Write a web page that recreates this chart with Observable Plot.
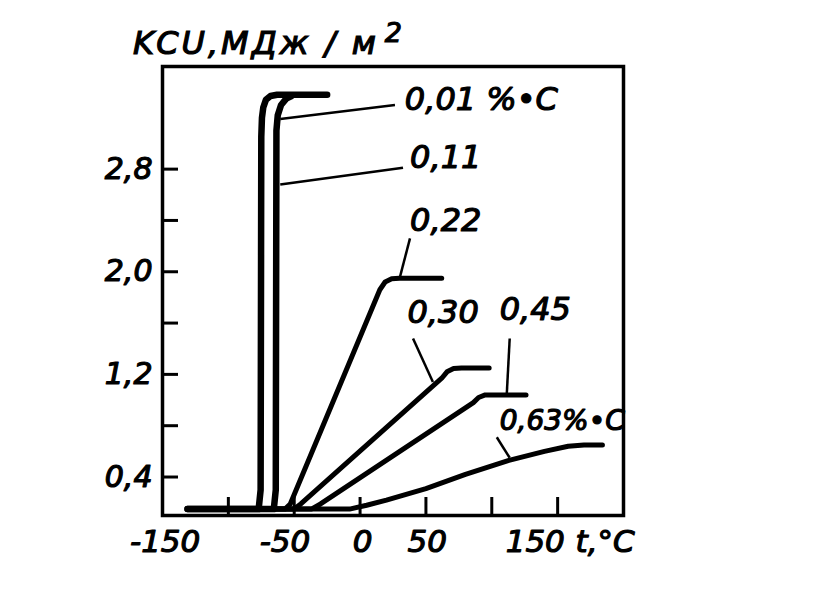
<!DOCTYPE html>
<html><head><meta charset="utf-8">
<script src="https://cdn.jsdelivr.net/npm/d3@7"></script>
<script src="https://cdn.jsdelivr.net/npm/@observablehq/plot@0.6"></script>
<style>
body{margin:0;background:#fff;width:822px;height:614px;overflow:hidden}
#title{height:60px;box-sizing:border-box;padding:27px 0 0 133px;font:italic 32px "DejaVu Sans";letter-spacing:3px;line-height:1;color:#000;-webkit-text-stroke:1.2px #000;white-space:pre}
#title span{position:relative;top:-12px;font-size:27px;margin-left:6px}
</style></head><body>
<div id="title">KCU,МДж / м<span>2</span></div>
<div id="chart"></div>
<script>
// Carbon content series (% C) — impact toughness KCU (MJ/m²) vs temperature t (°C)
const seriesNames = ["0,01", "0,11", "0,22", "0,30", "0,45", "0,63"];
const t001 = [-131, -77, -75.5, -75, -74.5, -73.5, -71.5, -68, -63, -55, -25];
const v001 = [0.15, 0.15, 0.3, 3.05, 3.2, 3.28, 3.34, 3.37, 3.38, 3.38, 3.38];
const t011 = [-131, -65.5, -64, -63.5, -62.5, -60, -56, -52];
const v011 = [0.15, 0.15, 0.3, 3.1, 3.22, 3.3, 3.35, 3.37];
const t022 = [-131, -57, -53, 15, 19, 24, 30, 62];
const v022 = [0.15, 0.15, 0.19, 1.86, 1.92, 1.945, 1.95, 1.95];
const t030 = [-131, -50, -45, 62, 66, 71, 77, 98];
const v030 = [0.15, 0.15, 0.19, 1.17, 1.22, 1.245, 1.25, 1.25];
const t045 = [-131, -37, -30, 86, 90, 95, 126];
const v045 = [0.15, 0.15, 0.19, 0.98, 1.02, 1.04, 1.04];
const t063 = [-131, -8, 5, 20, 50, 80, 113, 140, 158, 170, 184];
const v063 = [0.15, 0.15, 0.18, 0.22, 0.31, 0.42, 0.53, 0.6, 0.64, 0.65, 0.65];

// Curve labels and their leader lines (positions in data units)
const labelText = ["0,01 %•C", "0,11", "0,22", "0,30", "0,45", "0,63%•C"];
const labelT = [34, 38, 38, 36, 106, 106];
const labelV = [3.34, 2.89, 2.4, 1.68, 1.7, 0.84];
const labelSize = [32, 32, 32, 32, 32, 28];
const leaderT1 = [-60.6, -60.6, 30.3, 40.2, 113.6, 103.8];
const leaderV1 = [3.19, 2.68, 1.96, 1.48, 1.48, 0.71];
const leaderT2 = [26.5, 32.6, 37.9, 55.3, 111.4, 113.6];
const leaderV2 = [3.3, 2.81, 2.26, 1.14, 1.05, 0.55];

// Axes
const yTicks = [0.4, 0.8, 1.2, 1.6, 2.0, 2.4, 2.8];
const yLabelVals = [0.4, 1.2, 2.0, 2.8];
const yLabelText = ["0,4", "1,2", "2,0", "2,8"];
const xTicks = [-100, -50, 0, 50, 100, 150];
const xLabelVals = [-148, -57, 2, 51, 133, 186];
const xLabelText = ["-150", "-50", "0", "50", "150", "t,°C"];

const tArr = [t001, t011, t022, t030, t045, t063];
const vArr = [v001, v011, v022, v030, v045, v063];
const rows = seriesNames.flatMap((s, i) => tArr[i].map((t, j) => ({series: s, t, v: vArr[i][j]})));
const steep = rows.filter(d => d.series === "0,01" || d.series === "0,11");
const gentle = rows.filter(d => !(d.series === "0,01" || d.series === "0,11"));
const labels = labelText.map((text, i) => ({text, t: labelT[i], v: labelV[i], size: labelSize[i]}));
const leaders = leaderT1.map((t1, i) => ({t1, v1: leaderV1[i], t2: leaderT2[i], v2: leaderV2[i]}));
const yLabels = yLabelVals.map((v, i) => ({v, text: yLabelText[i]}));
const xLabels = xLabelVals.map((t, i) => ({t, text: xLabelText[i]}));

const W = 822, H = 554, mT = 6, mB = 99, mL = 162, mR = 199;
const plotW = W - mL - mR, plotH = H - mT - mB;
const font = {fontStyle: "italic", fill: "black", stroke: "black", strokeWidth: 1.2};

const chart = Plot.plot({
  width: W, height: H,
  marginTop: mT, marginBottom: mB, marginLeft: mL, marginRight: mR,
  x: {domain: [-150, 200], axis: null},
  y: {domain: [0.1, 3.6], axis: null},
  style: {fontFamily: "DejaVu Sans", background: "white", color: "black"},
  marks: [
    Plot.ruleY(yTicks, {y: d => d, insetRight: plotW - 16, strokeWidth: 3}),
    Plot.ruleX(xTicks, {x: d => d, insetTop: plotH - 18, strokeWidth: 3}),
    Plot.frame({stroke: "black", strokeWidth: 3.5}),
    Plot.line(gentle, {x: "t", y: "v", z: "series", stroke: "black", strokeWidth: 5, curve: "linear", strokeLinecap: "round", strokeLinejoin: "round"}),
    Plot.line(steep, {x: "t", y: "v", z: "series", stroke: "black", strokeWidth: 6.5, curve: "linear", strokeLinecap: "round", strokeLinejoin: "round"}),
    Plot.link(leaders, {x1: "t1", y1: "v1", x2: "t2", y2: "v2", stroke: "black", strokeWidth: 2.5}),
    Plot.text(labels, {x: "t", y: "v", text: "text", fontSize: d => d.size, textAnchor: "start", lineAnchor: "middle", ...font}),
    Plot.text(yLabels, {y: "v", text: "text", frameAnchor: "left", textAnchor: "end", dx: -10, lineAnchor: "middle", fontSize: 30, ...font}),
    Plot.text(xLabels, {x: "t", text: "text", frameAnchor: "bottom", dy: 27, lineAnchor: "middle", fontSize: 31, ...font})
  ]
});
document.getElementById("chart").appendChild(chart);
</script>
</body></html>
